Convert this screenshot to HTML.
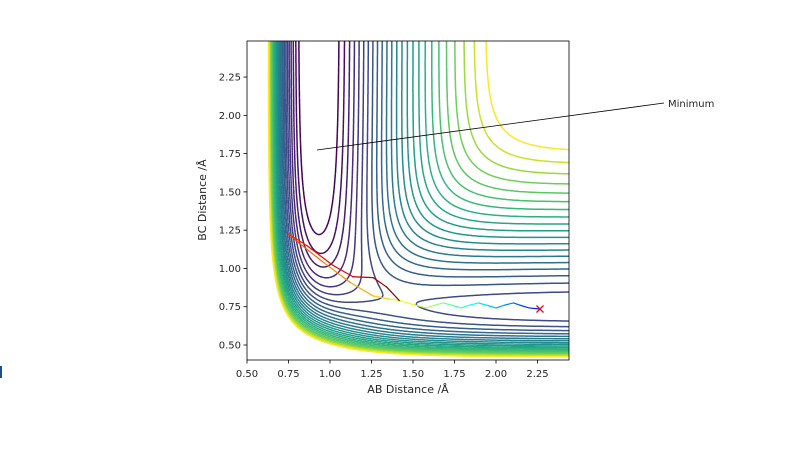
<!DOCTYPE html>
<html><head><meta charset="utf-8"><style>
body{margin:0;background:#fff;width:800px;height:448px;overflow:hidden}
svg text{font-family:"DejaVu Sans","Liberation Sans",sans-serif;fill:#262626}
</style></head><body>
<svg id="chart" width="800" height="448">
<rect x="0" y="366" width="2" height="12" fill="#1f4e8c"/>
<defs><clipPath id="pc"><rect x="247" y="41" width="322" height="319"/></clipPath></defs>
<g id="contours" clip-path="url(#pc)"></g>
<g id="traj" clip-path="url(#pc)"></g>
<rect x="247" y="41" width="322" height="319" fill="none" stroke="#000" stroke-width="0.8"/>
<g id="axes"></g>
<line x1="317" y1="150" x2="664" y2="103" stroke="#000" stroke-width="0.8"/>
<text x="668" y="107" font-size="10">Minimum</text>
<text x="408" y="393" font-size="11" text-anchor="middle">AB Distance /Å</text>
<text x="206" y="200" font-size="11" text-anchor="middle" transform="rotate(-90 206 200)">BC Distance /Å</text>
</svg>
<script>
const xTicks=[0.5,0.75,1.0,1.25,1.5,1.75,2.0,2.25];
const yTicks=[0.5,0.75,1.0,1.25,1.5,1.75,2.0,2.25];
const levelMin=-5.68, levelMax=-1.2, levelCount=25;
const trajX=[2.265,2.2,2.15,2.105,2.05,2.0,1.95,1.894,1.84,1.79,1.74,1.683,1.63,1.58,1.5,1.42,1.36,1.26,1.12,0.96,0.82,0.749,0.86,1.018,1.139,1.26,1.34,1.418];
const trajY=[0.735,0.742,0.758,0.775,0.76,0.742,0.758,0.775,0.76,0.742,0.758,0.775,0.76,0.742,0.765,0.79,0.80,0.82,0.91,1.04,1.16,1.225,1.15,1.02,0.946,0.94,0.88,0.79];
const endPoint=[2.265,0.735];
const NS='http://www.w3.org/2000/svg';
const sx=x=>247+(x-0.5)*166, sy=y=>345-(y-0.5)*153.1;
const ix=p=>0.5+(p-247)/166, iy=p=>0.5-(p-345)/153.1;
function mk(t,a,parent){const e=document.createElementNS(NS,t);for(const k in a)e.setAttribute(k,a[k]);parent.appendChild(e);return e;}
const axes=document.getElementById('axes');
xTicks.forEach(v=>{const g=mk('g',{},axes);


mk('line',{x1:sx(v),x2:sx(v),y1:360,y2:363.5,stroke:'#000','stroke-width':0.8},g);
const t=mk('text',{x:sx(v),y:377,'font-size':10,'text-anchor':'middle'},g);t.textContent=v.toFixed(2);});
yTicks.forEach(v=>{const g=mk('g',{},axes);


mk('line',{x1:243.5,x2:247,y1:sy(v),y2:sy(v),stroke:'#000','stroke-width':0.8},g);
const t=mk('text',{x:241,y:sy(v)+3.5,'font-size':10,'text-anchor':'end'},g);t.textContent=v.toFixed(2);});
function morse(r,D,a,re,d){const e=Math.exp(-a*(r-re));const E1=D*(e*e-2*e),E3=D/2*(e*e+2*e);const c=(1-d)/(1+d);return [0.5*(E1+c*E3),0.5*(E1-c*E3)];}
function V(x,y){const d=0.1;const A=morse(x,6.12,2.22,0.917,d),B=morse(y,4.746,1.943,0.742,d),C=morse(x+y,6.12,2.22,0.917,d);
const Q=A[0]+B[0]+C[0];const J=Math.sqrt(0.5*((A[1]-B[1])**2+(B[1]-C[1])**2+(C[1]-A[1])**2));return Q-J;}
const stops=[[0,'#440154'],[.125,'#482878'],[.25,'#3e4989'],[.375,'#31688e'],[.5,'#26828e'],[.625,'#1f9e89'],[.75,'#35b779'],[.875,'#6ece58'],[.94,'#b5de2b'],[1,'#fde725']];
function hex(h){return [1,3,5].map(i=>parseInt(h.substr(i,2),16));}
function cmap(t,st){for(let i=1;i<st.length;i++){if(t<=st[i][0]){const f=(t-st[i-1][0])/(st[i][0]-st[i-1][0]);const a=hex(st[i-1][1]),b=hex(st[i][1]);return 'rgb('+a.map((v,k)=>Math.round(v+(b[k]-v)*f)).join(',')+')';}}return st[st.length-1][1];}
const N=260,M=260,gx=[],gy=[],F=[];
for(let i=0;i<=N;i++)gx.push(245+i*(326/N));
for(let j=0;j<=M;j++)gy.push(39+j*(323/M));
for(let j=0;j<=M;j++){F.push([]);for(let i=0;i<=N;i++)F[j].push(V(ix(gx[i]),iy(gy[j])));}
const cg=document.getElementById('contours');
for(let k=0;k<levelCount;k++){const L=levelMin+(levelMax-levelMin)*k/(levelCount-1);let d='';
for(let j=0;j<M;j++)for(let i=0;i<N;i++){const v=[F[j][i],F[j][i+1],F[j+1][i+1],F[j+1][i]];
const p=[[gx[i],gy[j]],[gx[i+1],gy[j]],[gx[i+1],gy[j+1]],[gx[i],gy[j+1]]];const pts=[];
for(let e=0;e<4;e++){const a=v[e],b=v[(e+1)%4];if((a<L)!==(b<L)){const t=(L-a)/(b-a);const P=p[e],R=p[(e+1)%4];pts.push([P[0]+(R[0]-P[0])*t,P[1]+(R[1]-P[1])*t]);}}
for(let q=0;q+1<pts.length;q+=2)d+='M'+pts[q][0].toFixed(1)+' '+pts[q][1].toFixed(1)+'L'+pts[q+1][0].toFixed(1)+' '+pts[q+1][1].toFixed(1);}
const pa=mk('path',{d:d,fill:'none',stroke:cmap(k/(levelCount-1),stops),'stroke-width':1.5},cg);

}
const jet=[[0,'#00008f'],[.125,'#0000ff'],[.375,'#00ffff'],[.5,'#80ff80'],[.625,'#ffff00'],[.875,'#ff0000'],[1,'#800000']];
const tg=document.getElementById('traj');
for(let i=0;i+1<trajX.length;i++){const s=mk('line',{x1:sx(trajX[i]),y1:sy(trajY[i]),x2:sx(trajX[i+1]),y2:sy(trajY[i+1]),stroke:cmap(0.15+0.85*i/(trajX.length-2),jet),'stroke-width':1.2,'stroke-linecap':'round'},tg);

}
const cx=sx(endPoint[0]),cy=sy(endPoint[1]);
const mg=mk('g',{},tg);


mk('line',{x1:cx-3.5,y1:cy-3.5,x2:cx+3.5,y2:cy+3.5,stroke:'#e01010','stroke-width':1.3},mg);
mk('line',{x1:cx-3.5,y1:cy+3.5,x2:cx+3.5,y2:cy-3.5,stroke:'#e01010','stroke-width':1.3},mg);
</script>
</body></html>
